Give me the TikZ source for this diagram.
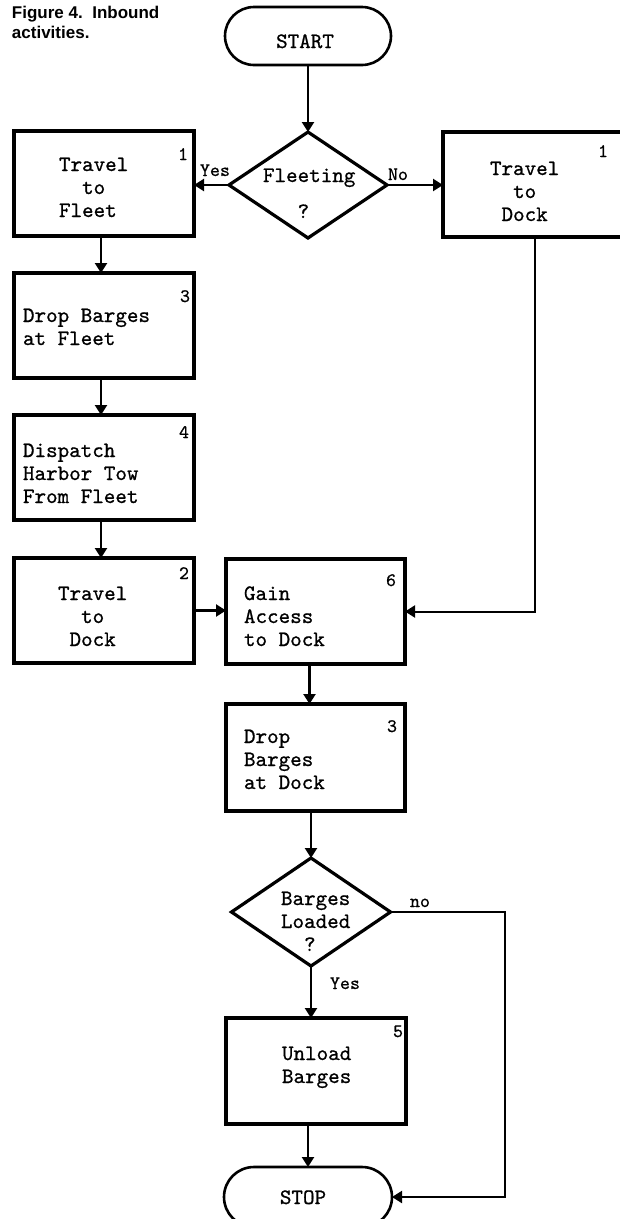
\documentclass[tikz,border=0pt]{standalone}
\usepackage{fontspec}
\newfontfamily\titlefont{Liberation Sans}
\newfontfamily\typew{lmmono10-regular.otf}[FakeBold=0.8]
\usetikzlibrary{arrows.meta,shapes.geometric,shapes.misc,calc}

% typewriter text helpers
\newcommand\tstrut{\rule{0pt}{15pt}}
\newcommand\tsp[1]{\hphantom{#1}}

\begin{document}
\begin{tikzpicture}[x=1pt,y=-1pt,
  every node/.style={inner sep=0pt, outer sep=0pt},
  tw/.style={font=\typew\fontsize{22}{23}\selectfont, align=left, anchor=north west},
  lbl/.style={font=\typew\fontsize{19}{22}\selectfont, anchor=base west},
  num/.style={font=\typew\fontsize{19}{22}\selectfont, anchor=base east},
  stepbox/.style={draw, line width=3.2pt, minimum width=180pt, minimum height=105pt},
  decide/.style={draw, diamond, line width=3.2pt, minimum width=158pt, minimum height=106pt},
  term/.style={draw, rounded rectangle, line width=2.6pt, minimum width=166pt, minimum height=58pt},
  arr/.style={line width=2.3pt, -{Triangle[length=10pt,width=12pt]}},
  flow/.style={line width=2pt, -{Triangle[length=10pt,width=12pt]}}
]
\useasboundingbox (0,0) rectangle (620,1219);

% caption
\node[font=\titlefont\bfseries\fontsize{17}{20}\selectfont, align=left, anchor=north west]
  (caption) at (12,4) {\rule{0pt}{14pt}Figure 4.\ \ Inbound\\activities.};

% terminals and decisions
\node[term] (start) at (308,36) {};
\node[font=\typew\fontsize{22}{23}\selectfont, anchor=base] (starttxt) at (305,48) {START};

\node[decide] (fleet) at (308,185) {};
\node[tw] (fleettxt) at (263,167) {\tstrut Fleeting\\[13pt]\tsp{xxx}?};

% left branch
\node[stepbox] (tfleet) at (104,183.5) {};
\node[tw] (tfleettxt) at (59,156) {\tstrut Travel\\\tsp{xx}to\\Fleet};
\node[num] (n1a) at (188,160) {1};

\node[stepbox] (dfleet) at (104,325.5) {};
\node[tw] (dfleettxt) at (23,307) {\tstrut Drop Barges\\at Fleet};
\node[num] (n3a) at (190,302) {3};

\node[stepbox] (dispatch) at (104,467.5) {};
\node[tw] (dispatchtxt) at (23,442) {\tstrut Dispatch\\Harbor Tow\\From Fleet};
\node[num] (n4) at (189,438) {4};

\node[stepbox] (tdock2) at (104,610.5) {};
\node[tw] (tdock2txt) at (58,585) {\tstrut Travel\\\tsp{xx}to\\\tsp{x}Dock};
\node[num] (n2) at (189,579) {2};

% right branch
\node[stepbox] (rdock) at (533,184.5) {};
\node[tw] (rdocktxt) at (490,160) {\tstrut Travel\\\tsp{xx}to\\\tsp{x}Dock};
\node[num] (n1b) at (608,157) {1};

% common path
\node[stepbox, minimum width=179pt] (gain) at (315.5,611.5) {};
\node[tw] (gaintxt) at (244,585) {\tstrut Gain\\Access\\to Dock};
\node[num] (n6) at (396,586) {6};

\node[stepbox, minimum width=179pt, minimum height=107pt] (ddock) at (315.5,757.5) {};
\node[tw] (ddocktxt) at (244,728) {\tstrut Drop\\Barges\\at Dock};
\node[num] (n3b) at (397,732) {3};

\node[decide, minimum width=159pt, minimum height=108pt] (loaded) at (311,912) {};
\node[tw] (loadedtxt) at (281,890) {\tstrut Barges\\Loaded\\\tsp{xx}?};

\node[stepbox, minimum width=180pt, minimum height=106pt] (unload) at (316,1071) {};
\node[tw] (unloadtxt) at (282,1045) {\tstrut Unload\\Barges};
\node[num] (n5) at (403,1037) {5};

\node[term, minimum width=168pt, minimum height=60pt] (stop) at (308,1197) {};
\node[font=\typew\fontsize{22}{23}\selectfont, anchor=base] (stoptxt) at (303,1204) {STOP};

% branch labels
\node[lbl] (yesa) at (200,176) {Yes};
\node[lbl] (noa) at (388,180) {No};
\node[lbl] (nob) at (410,907) {no};
\node[lbl] (yesb) at (330,989) {Yes};

% connectors
\draw[arr] (start.south) -- (fleet.north);
\draw[arr] (fleet.west) -- (fleet.west -| tfleet.east);
\draw[arr] (fleet.east) -- (fleet.east -| rdock.west);
\draw[arr] ([xshift=-3pt]tfleet.south) -- ([xshift=-3pt]dfleet.north);
\draw[arr] ([xshift=-3pt]dfleet.south) -- ([xshift=-3pt]dispatch.north);
\draw[arr] ([xshift=-3pt]dispatch.south) -- ([xshift=-3pt]tdock2.north);
\draw[arr] (tdock2.east) -- (tdock2.east -| gain.west);
\draw[flow] ([xshift=2pt]rdock.south) |- (gain.east);
\draw[arr] ([xshift=-6pt]gain.south) -- ([xshift=-6pt]ddock.north);
\draw[arr] (loaded.north |- ddock.south) -- (loaded.north);
\draw[arr] (loaded.south) -- (loaded.south |- unload.north);
\draw[arr] (stop.north |- unload.south) -- (stop.north);
\coordinate (nobend) at (505,912);
\draw[flow] (loaded.east) -- (nobend) |- (stop.east);
\end{tikzpicture}
\end{document}
